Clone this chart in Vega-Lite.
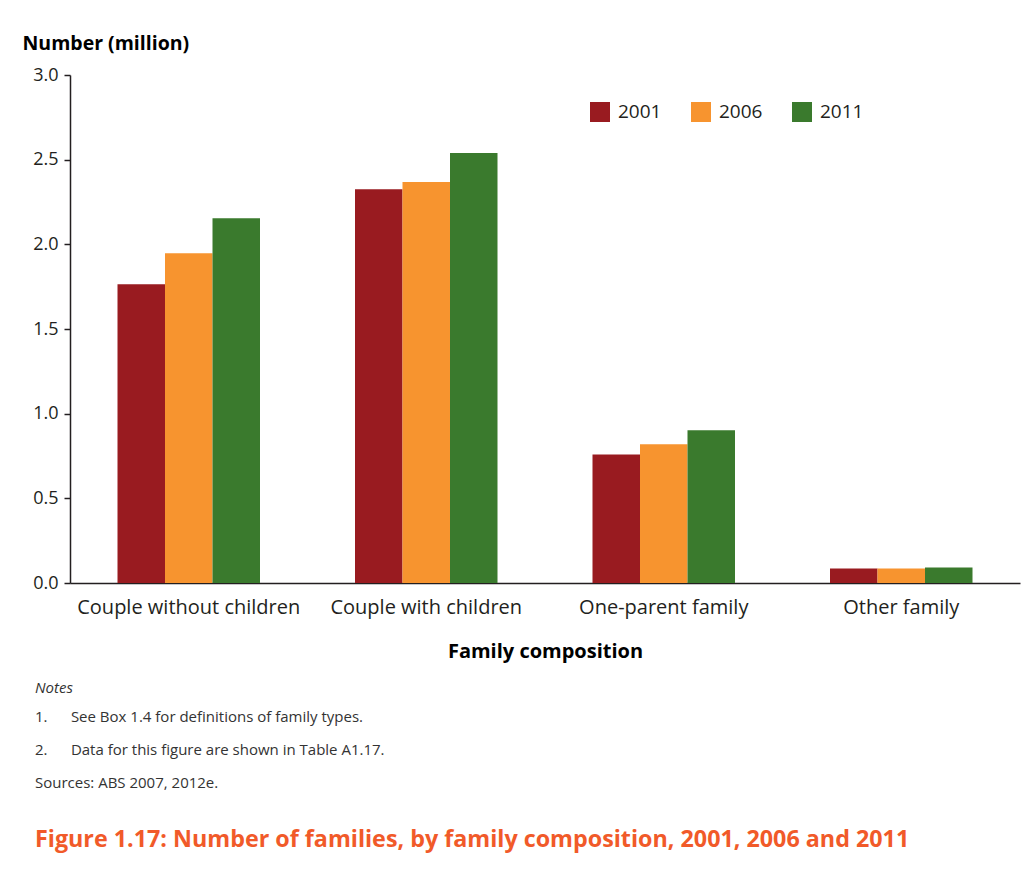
{
  "$schema": "https://vega.github.io/schema/vega-lite/v6.json",
  "padding": {"left": 22, "top": 33, "right": 13, "bottom": 20},
  "background": "white",
  "title": {
    "text": "Figure 1.17: Number of families, by family composition, 2001, 2006 and 2011",
    "orient": "bottom",
    "anchor": "start",
    "frame": "bounds",
    "color": "#F15A29",
    "font": "Open Sans",
    "fontSize": 23.3,
    "fontWeight": "bold",
    "offset": 38,
    "dx": 13
  },
  "vconcat": [
    {
      "width": 950,
      "height": 508,
      "title": {
        "text": "Notes",
        "subtitle": [
          "1.\u00a0\u00a0\u00a0\u00a0\u00a0\u00a0See Box 1.4 for definitions of family types.",
          "2.\u00a0\u00a0\u00a0\u00a0\u00a0\u00a0Data for this figure are shown in Table A1.17.",
          "Sources: ABS 2007, 2012e."
        ],
        "orient": "bottom",
        "anchor": "start",
        "frame": "bounds",
        "font": "Open Sans",
        "fontSize": 15,
        "fontStyle": "italic",
        "fontWeight": "normal",
        "color": "#333333",
        "subtitleFont": "Open Sans",
        "subtitleFontSize": 15,
        "subtitleColor": "#333333",
        "subtitleLineHeight": 33,
        "subtitlePadding": 14,
        "offset": 20,
        "dx": 13
      },
      "data": {
        "values": [
          {"composition": "Couple without children", "year": "2001", "families": 1.764},
          {"composition": "Couple without children", "year": "2006", "families": 1.947},
          {"composition": "Couple without children", "year": "2011", "families": 2.154},
          {"composition": "Couple with children", "year": "2001", "families": 2.326},
          {"composition": "Couple with children", "year": "2006", "families": 2.368},
          {"composition": "Couple with children", "year": "2011", "families": 2.54},
          {"composition": "One-parent family", "year": "2001", "families": 0.759},
          {"composition": "One-parent family", "year": "2006", "families": 0.819},
          {"composition": "One-parent family", "year": "2011", "families": 0.902},
          {"composition": "Other family", "year": "2001", "families": 0.086},
          {"composition": "Other family", "year": "2006", "families": 0.086},
          {"composition": "Other family", "year": "2011", "families": 0.092}
        ]
      },
      "mark": {"type": "bar"},
      "encoding": {
        "x": {
          "field": "composition",
          "type": "nominal",
          "sort": null,
          "scale": {"paddingInner": 0.4, "paddingOuter": 0.2},
          "axis": {
            "title": "Family composition",
            "labelAngle": 0,
            "labelLimit": 0,
            "labelFontSize": 20,
            "ticks": false,
            "labelPadding": 14,
            "titlePadding": 24,
            "titleFontSize": 20,
            "domainColor": "#231F20",
            "domainWidth": 1.5
          }
        },
        "xOffset": {"field": "year", "type": "nominal"},
        "y": {
          "field": "families",
          "type": "quantitative",
          "scale": {"domain": [0, 3]},
          "axis": {
            "title": "Number (million)",
            "values": [0, 0.5, 1, 1.5, 2, 2.5, 3],
            "format": ".1f",
            "grid": false,
            "tickSize": 6,
            "tickColor": "#231F20",
            "tickWidth": 1.5,
            "domainColor": "#231F20",
            "domainWidth": 1.5,
            "labelPadding": 6,
            "labelFontSize": 18,
            "titleFontSize": 19.5,
            "titleAngle": 0,
            "titleAlign": "left",
            "titleBaseline": "middle",
            "titleAnchor": "end",
            "titleX": -48,
            "titleY": -32
          }
        },
        "color": {
          "field": "year",
          "type": "nominal",
          "scale": {"domain": ["2001", "2006", "2011"], "range": ["#991B20", "#F7942F", "#3A7A2D"]},
          "legend": {
            "title": null,
            "orient": "none",
            "direction": "horizontal",
            "legendX": 520,
            "legendY": 27,
            "symbolType": "square",
            "symbolSize": 400,
            "symbolStrokeWidth": 0,
            "labelOffset": 8,
            "labelFontSize": 19,
            "columnPadding": 29
          }
        }
      }
    }
  ],
  "config": {
    "font": "Open Sans",
    "view": {"stroke": null},
    "axis": {
      "labelFont": "Open Sans",
      "labelFontSize": 18,
      "labelColor": "#231F20",
      "titleFont": "Open Sans",
      "titleFontSize": 18,
      "titleFontWeight": "bold",
      "titleColor": "#000000"
    },
    "legend": {
      "labelFont": "Open Sans",
      "labelFontSize": 18,
      "labelColor": "#231F20"
    }
  }
}
